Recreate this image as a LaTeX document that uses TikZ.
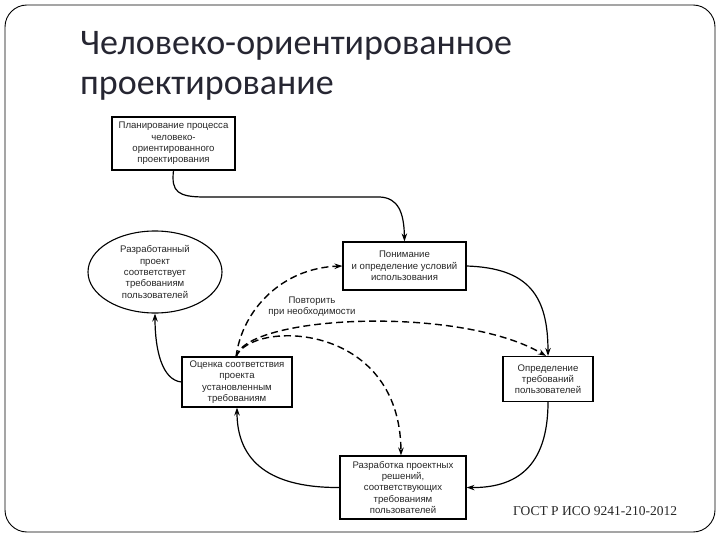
\documentclass[tikz,border=0pt]{standalone}
\usepackage{fontspec}
\setmainfont{Liberation Sans}
\newfontfamily\titlefont{Carlito}
\newfontfamily\gostfont{Liberation Serif}
\usetikzlibrary{arrows.meta,shapes.geometric}
\definecolor{titlecol}{HTML}{262632}
\tikzset{
  box/.style={draw, line width=1.1pt, align=center, inner sep=1pt,
    font=\fontsize{9.6}{11.3}\selectfont, text=black!85},
  conn/.style={line width=1.2pt, -{Stealth[length=8pt,width=5.5pt]}},
  dconn/.style={conn, dash pattern=on 7pt off 4pt, line width=1.4pt},
  titletext/.style={anchor=base west, inner sep=0pt, font=\titlefont\fontsize{36}{40}\selectfont, text=titlecol},
}
\begin{document}
\begin{tikzpicture}[x=1pt,y=-1pt]
\useasboundingbox (0,0) rectangle (720,540);
\draw[line width=0.9pt, rounded corners=22pt] (5,5) rectangle (715,532);

\node[titletext] (t1) at (80,55) {Человеко-ориентированное};
\node[titletext] (t2) at (80,95) {проектирование};

\node[box, minimum width=123pt, minimum height=53pt] (plan) at (173.5,143.5)
  {Планирование процесса\\человеко-\\ориентированного\\проектирования};
\node[box, ellipse, minimum width=134pt, minimum height=82pt, inner sep=0pt] (ell) at (155,272)
  {Разработанный\\проект\\соответствует\\требованиям\\пользователей};
\node[box, minimum width=123pt, minimum height=48pt] (und) at (404.5,266)
  {Понимание\\и определение условий\\использования};
\node[box, minimum width=110pt, minimum height=50pt] (eval) at (237,382)
  {Оценка соответствия\\проекта\\установленным\\требованиям};
\node[box, minimum width=90pt, minimum height=45pt] (def) at (548,379)
  {Определение\\требований\\пользователей};
\node[box, minimum width=126pt, minimum height=63pt] (dev) at (403,487.5)
  {Разработка проектных\\решений,\\соответствующих\\требованиям\\пользователей};

\node[align=center, font=\fontsize{9.6}{11.3}\selectfont, text=black!85] (rep) at (312,307)
  {Повторить\\при необходимости};

\node[anchor=base west, inner sep=0pt, font=\gostfont\fontsize{13.5}{15}\selectfont, text=black!85] (gost) at (513,515)
  {ГОСТ Р ИСО 9241-210-2012};

% solid connectors
\draw[conn] (plan.south) .. controls (171,192) and (178,197) .. (205,197)
  -- (380,197) .. controls (398,198) and (404,212) .. (und.north);
\draw[conn] (und.east) .. controls (528,268) and (548,295) .. (def.north);
\draw[conn] (def.south) .. controls (548,468) and (515,488) .. (dev.east);
\draw[conn] (dev.west) .. controls (262,488) and (237,455) .. (eval.south);
\draw[conn] (eval.west) .. controls (162,380) and (155,350) .. (ell.south);

% dashed connectors
\coordinate (es) at (236,357);
\draw[dconn] (es) .. controls (242,310) and (282,268) .. (und.west);
\draw[dconn] (es) .. controls (245,315) and (460,305) .. ([xshift=-2pt]def.north);
\draw[dconn] (es) .. controls (250,320) and (400,320) .. ([xshift=-2pt]dev.north);
\end{tikzpicture}
\end{document}
